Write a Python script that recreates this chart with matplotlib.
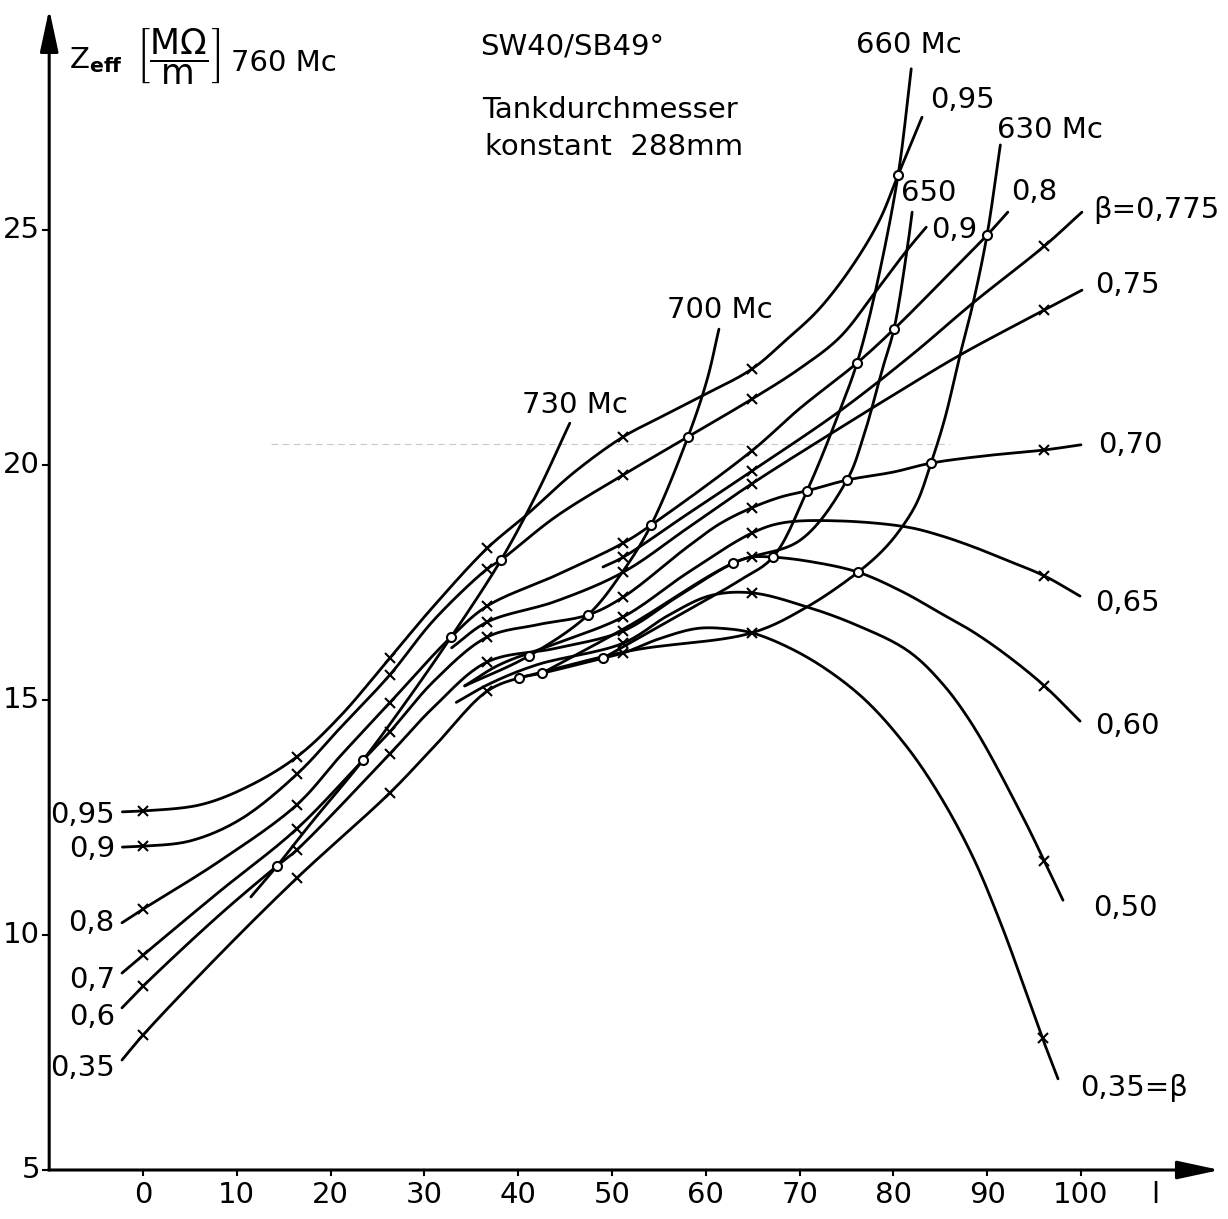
import numpy as np
import matplotlib
matplotlib.use('Agg')
import matplotlib.pyplot as plt

plt.rcParams['font.family'] = ['DejaVu Sans']
plt.rcParams['mathtext.fontset'] = 'dejavusans'
plt.rcParams['mathtext.default'] = 'regular'

# l positions where the measured points (x) were taken
mark_l = [0, 16.4, 26.3, 36.7, 51.2, 64.9, 96.1]

# Z_eff over l for constant beta
b095_l = [-2.2, 0, 6.1, 11.1, 16.4, 21, 26.3, 31, 36.7, 40.9, 46, 51.2, 55, 59.4, 64.9, 68.5, 72, 75.5, 78.5, 80.5, 83.05]
b095_z = [12.62, 12.64, 12.77, 13.15, 13.79, 14.65, 15.89, 17.0, 18.23, 18.94, 19.85, 20.6, 21.0, 21.45, 22.04, 22.65, 23.3, 24.2, 25.2, 26.17, 27.4]

b090_l = [-2.2, 0, 5, 10.3, 16.4, 21, 26.3, 31, 36.7, 38.17, 44, 51.2, 58.1, 64.9, 70, 74.3, 78.0, 81.45, 83.5]
b090_z = [11.87, 11.89, 12.0, 12.45, 13.42, 14.4, 15.53, 16.7, 17.79, 17.98, 18.9, 19.79, 20.6, 21.4, 22.05, 22.72, 23.66, 24.57, 25.06]

b080_l = [-2.24, 0, 8, 16.4, 21, 26.3, 32.84, 36.7, 44, 51.2, 54.16, 64.9, 70, 76.12, 80.06, 84.97, 89.98, 92.2]
b080_z = [10.26, 10.55, 11.55, 12.77, 13.8, 14.94, 16.34, 17.0, 17.65, 18.34, 18.72, 20.3, 21.2, 22.17, 22.89, 23.87, 24.89, 25.38]

b0775_l = [49.04, 51.2, 58, 64.9, 74.3, 82, 88.5, 96.1, 100.1]
b0775_z = [17.83, 18.04, 18.95, 19.87, 21.15, 22.35, 23.45, 24.66, 25.38]

b075_l = [32.9, 36.7, 44, 51.2, 58, 64.9, 74, 80.5, 87.1, 96.1, 100.1]
b075_z = [16.11, 16.66, 17.1, 17.72, 18.65, 19.6, 20.75, 21.55, 22.34, 23.3, 23.72]

b070_l = [-2.24, 0, 8, 16.4, 23.45, 26.3, 31, 36.7, 42, 47.44, 51.2, 58, 61.5, 64.9, 68, 70.79, 75.05, 80, 84.0, 90, 96.1, 100.0]
b070_z = [9.19, 9.57, 10.9, 12.26, 13.72, 14.32, 15.4, 16.34, 16.6, 16.81, 17.19, 18.25, 18.75, 19.09, 19.32, 19.45, 19.68, 19.85, 20.04, 20.2, 20.32, 20.43]

b065_l = [34.3, 38, 44, 51.2, 58, 64.9, 68.2, 74.3, 81.45, 85, 88.5, 92, 96.1, 99.9]
b065_z = [15.3, 15.75, 16.2, 16.77, 17.7, 18.55, 18.77, 18.81, 18.68, 18.5, 18.26, 17.98, 17.64, 17.21]

b060_l = [-2.24, 0, 8, 14.29, 16.4, 26.3, 31, 36.7, 44, 51.2, 57, 62.9, 64.9, 67.16, 71, 76.23, 81, 85.0, 88.5, 92.1, 96.1, 99.9]
b060_z = [8.45, 8.91, 10.4, 11.47, 11.81, 13.85, 14.85, 15.81, 16.1, 16.47, 17.2, 17.91, 18.04, 18.04, 17.95, 17.72, 17.3, 16.85, 16.45, 15.95, 15.3, 14.55]

b050_l = [33.4, 37, 42, 51.2, 56, 60.45, 64.9, 70.79, 76, 81.45, 85, 88.5, 93.8, 96.1, 98.08]
b050_z = [14.95, 15.35, 15.75, 16.21, 16.8, 17.22, 17.28, 16.98, 16.6, 16.06, 15.4, 14.45, 12.51, 11.57, 10.74]

b035_l = [-2.24, 0, 8, 16.4, 26.3, 31, 36.7, 40.09, 42.54, 49.04, 51.2, 55, 59, 62, 64.9, 68.5, 72.5, 77, 81.45, 85, 88.5, 91.5, 94.2, 95.9, 97.55]
b035_z = [7.34, 7.87, 9.55, 11.21, 13.02, 14.0, 15.19, 15.47, 15.57, 15.89, 16.0, 16.3, 16.52, 16.52, 16.43, 16.15, 15.7, 15.0, 14.0, 12.95, 11.65, 10.22, 8.75, 7.8, 6.94]

# loci of constant frequency (o = crossing with a beta curve)
f730_l = [11.5, 14.29, 18, 23.45, 28, 32.84, 38.17, 42, 45.5]
f730_z = [10.81, 11.47, 12.4, 13.72, 14.95, 16.34, 17.98, 19.4, 20.89]
f730_rings = [14.29, 23.45, 32.84, 38.17]

f700_l = [34.3, 41.15, 47.44, 51.1, 54.16, 58.1, 60.13, 61.4]
f700_z = [15.3, 15.94, 16.81, 17.72, 18.72, 20.6, 21.81, 22.89]
f700_rings = [41.15, 47.44, 54.16, 58.1]

f660_l = [49.04, 58, 63.65, 67.16, 70.79, 74.31, 76.12, 78.04, 80.5, 81.9]
f660_z = [15.89, 16.9, 17.55, 18.04, 19.45, 21.17, 22.17, 23.66, 26.17, 28.43]
f660_rings = [49.04, 67.16, 70.79, 76.12, 80.5]

f650_l = [42.54, 52, 62.9, 70.06, 75.05, 76.8, 78.9, 80.06, 81.45, 82.0]
f650_z = [15.57, 16.6, 17.91, 18.4, 19.68, 20.6, 22.09, 22.89, 24.57, 25.38]
f650_rings = [42.54, 62.9, 75.05, 80.06]

f630_l = [40.09, 52, 64.93, 70.79, 76.23, 78.9, 80.7, 82.5, 84.01, 85.5, 87.1, 88.5, 89.98, 91.4]
f630_z = [15.47, 16.05, 16.43, 16.98, 17.72, 18.19, 18.62, 19.2, 20.04, 21.0, 22.34, 23.45, 24.89, 26.81]
f630_rings = [40.09, 76.23, 84.01, 89.98]

x_ticks = [0, 10, 20, 30, 40, 50, 60, 70, 80, 90, 100]
y_ticks = [5, 10, 15, 20, 25]

# rough paper scale (px per unit) so the spline spacing follows the drawn length
SX, SY = 9.38, 47.0


def smooth(xs, ys, n=16):
    # centripetal Catmull-Rom through the read points
    p = np.column_stack([np.asarray(xs, float) * SX, np.asarray(ys, float) * SY])
    p = np.vstack([2 * p[0] - p[1], p, 2 * p[-1] - p[-2]])
    out = []
    for i in range(1, len(p) - 2):
        p0, p1, p2, p3 = p[i - 1], p[i], p[i + 1], p[i + 2]
        t0 = 0.0
        t1 = t0 + np.linalg.norm(p1 - p0) ** 0.5
        t2 = t1 + np.linalg.norm(p2 - p1) ** 0.5
        t3 = t2 + np.linalg.norm(p3 - p2) ** 0.5
        t = np.linspace(t1, t2, n)[:, None]
        a1 = (t1 - t) / (t1 - t0) * p0 + (t - t0) / (t1 - t0) * p1
        a2 = (t2 - t) / (t2 - t1) * p1 + (t - t1) / (t2 - t1) * p2
        a3 = (t3 - t) / (t3 - t2) * p2 + (t - t2) / (t3 - t2) * p3
        b1 = (t2 - t) / (t2 - t0) * a1 + (t - t0) / (t2 - t0) * a2
        b2 = (t3 - t) / (t3 - t1) * a2 + (t - t1) / (t3 - t1) * a3
        c = (t2 - t) / (t2 - t1) * b1 + (t - t1) / (t2 - t1) * b2
        out.append(c if i == 1 else c[1:])
    out = np.vstack(out)
    return out[:, 0] / SX, out[:, 1] / SY


fig = plt.figure(figsize=(12.28, 12.19), dpi=100)
ax = fig.add_axes([0.00187, 0.00164, 0.993, 0.99475])
ax.set_xlim(-15, 115)
ax.set_ylim(4, 29.8)
ax.axis('off')

# faint ruling left on the sheet near Z = 20.45
ax.plot([13.6, 86.0], [20.45, 20.45], color='#c8c8c8', lw=0.8, dashes=(6, 4), zorder=1)

ink = dict(color='black', lw=2.0, solid_capstyle='round', zorder=2)

beta_curves = [(b095_l, b095_z), (b090_l, b090_z), (b080_l, b080_z), (b0775_l, b0775_z),
               (b075_l, b075_z), (b070_l, b070_z), (b065_l, b065_z), (b060_l, b060_z),
               (b050_l, b050_z), (b035_l, b035_z)]
for ls, zs in beta_curves:
    sx, sy = smooth(ls, zs)
    ax.plot(sx, sy, **ink)
    ml = [l for l in ls if any(abs(l - m) < 0.25 for m in mark_l)]
    mz = [z for l, z in zip(ls, zs) if any(abs(l - m) < 0.25 for m in mark_l)]
    ax.plot(ml, mz, 'x', color='black', ms=6.5, mew=1.5, zorder=3)

freq_curves = [(f730_l, f730_z, f730_rings), (f700_l, f700_z, f700_rings),
               (f660_l, f660_z, f660_rings), (f650_l, f650_z, f650_rings),
               (f630_l, f630_z, f630_rings)]
for ls, zs, rings in freq_curves:
    sx, sy = smooth(ls, zs)
    ax.plot(sx, sy, **ink)
    rl = [l for l in ls if l in rings]
    rz = [z for l, z in zip(ls, zs) if l in rings]
    ax.plot(rl, rz, 'o', ms=6.5, mfc='white', mec='black', mew=1.5, zorder=4)

# axes drawn as arrows
arrow = dict(arrowstyle='-|>,head_length=1.3,head_width=0.28', lw=2.2, color='black',
             mutation_scale=20, shrinkA=0, shrinkB=0)
ax.annotate('', xy=(-10, 29.7), xytext=(-10, 5), arrowprops=arrow, annotation_clip=False)
ax.annotate('', xy=(114.8, 5), xytext=(-10.1, 5), arrowprops=arrow, annotation_clip=False)

fs = 21
for t in x_ticks:
    ax.plot([t, t], [5, 4.9], color='black', lw=1.5)
    ax.text(t, 4.47, str(t), ha='center', va='center', fontsize=fs)
ax.text(107.9, 4.47, 'l', ha='center', va='center', fontsize=fs)
for t in y_ticks:
    ax.plot([-10.7, -10], [t, t], color='black', lw=1.5)
    ax.text(-11.0, t, str(t), ha='right', va='center', fontsize=fs)

# headings
ax.text(-7.9, 28.62, r'$Z_{\mathbf{eff}}$', ha='left', va='center', fontsize=fs)
ax.text(-0.7, 28.7, r'$\left[\dfrac{M\Omega}{m}\right]$', ha='left', va='center', fontsize=25)
ax.text(9.4, 28.55, '760 Mc', ha='left', va='center', fontsize=fs)
ax.text(35.9, 28.9, 'SW40/SB49°', ha='left', va='center', fontsize=fs)
ax.text(36.2, 27.55, 'Tankdurchmesser', ha='left', va='center', fontsize=fs)
ax.text(36.5, 26.77, 'konstant  288mm', ha='left', va='center', fontsize=fs)

# curve names at the left ends
for txt, z in [('0,95', 12.55), ('0,9', 11.83), ('0,8', 10.26), ('0,7', 9.04),
               ('0,6', 8.26), ('0,35', 7.17)]:
    ax.text(-3.0, z, txt, ha='right', va='center', fontsize=fs)

# curve names at the right ends
for txt, l, z in [('β=0,775', 101.3, 25.43), ('0,75', 101.5, 23.83), ('0,70', 101.8, 20.43),
                  ('0,65', 101.5, 17.06), ('0,60', 101.5, 14.45), ('0,50', 101.3, 10.57),
                  ('0,35=β', 99.9, 6.74), ('0,8', 92.5, 25.81), ('0,9', 84.0, 25.0),
                  ('650', 80.8, 25.79), ('0,95', 83.9, 27.77)]:
    ax.text(l, z, txt, ha='left', va='center', fontsize=fs)

for txt, l, z in [('730 Mc', 46.1, 21.28), ('700 Mc', 61.5, 23.3), ('660 Mc', 81.6, 28.94),
                  ('630 Mc', 96.7, 27.13)]:
    ax.text(l, z, txt, ha='center', va='center', fontsize=fs)

plt.savefig('out.png', dpi=100)
